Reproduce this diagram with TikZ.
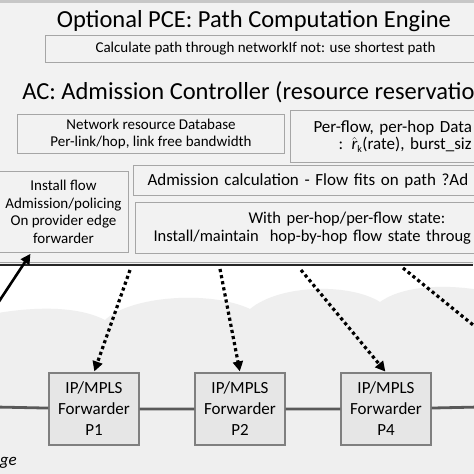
\documentclass[tikz,border=0pt]{standalone}
\usepackage{fontspec}
\setmainfont{Carlito}
\usetikzlibrary{positioning}
\usetikzlibrary{arrows.meta}
\definecolor{bggray}{HTML}{F2F2F2}
\definecolor{cloudgray}{HTML}{EFEFEF}
\definecolor{boxline}{HTML}{A6A6A6}
\definecolor{fwdfill}{HTML}{E6E6E6}
\definecolor{fwdline}{HTML}{7F7F7F}
\definecolor{linkgray}{HTML}{595959}

\begin{document}
\begin{tikzpicture}[x=1pt,y=-1pt,>={Triangle[length=10pt,width=10pt]},shorten >=1pt,
					node distance=146pt,semithick]
					\tikzstyle{infobox}=[draw=boxline,fill=bggray,line width=1pt,inner sep=0pt,font=\fontsize{15}{17.5}\selectfont]
					\tikzstyle{fwd}=[draw=fwdline,fill=fwdfill,line width=1.3pt,minimum width=90pt,minimum height=72pt,
					align=center,inner sep=0pt,font=\fontsize{17}{21}\selectfont]
					\tikzstyle{ctrl}=[->,line width=3.2pt,dash pattern=on 3.2pt off 3pt]
					\tikzstyle{link}=[draw=linkgray,line width=2.8pt]
					
					\useasboundingbox (0,0) rectangle (474,474);
					\clip (0,0) rectangle (474,474);
					
					% background, network cloud
					\fill[bggray] (0,0) rectangle (474,474);
					\fill[black!22] (0,0) rectangle (474,3);
					\fill[white] (0,265) rectangle (474,474);
					\fill[cloudgray] (-2,313) .. controls (40,306) and (80,307) .. (105,320)
					.. controls (130,296) and (210,290) .. (250,309)
					.. controls (280,284) and (350,283) .. (380,302)
					.. controls (405,284) and (450,285) .. (480,290) -- (480,480) -- (-2,480) -- cycle;
					\draw[line width=0.8pt,boxline] (0,262) -- (474,262);
					\draw[line width=1.3pt,black!85] (0,265) -- (474,265);
					
					\node[anchor=base,inner sep=0pt,font=\fontsize{24.5}{28}\selectfont] (pce) at (254,27) {Optional PCE: Path Computation Engine};
					\node[infobox,anchor=north west,minimum width=440pt,minimum height=27pt] (pcecalc) at (45,35)
					{Calculate path through networkIf not: use shortest path};
					\node[anchor=base west,inner sep=0pt,font=\fontsize{24.5}{28}\selectfont] (ac) at (22,99) {AC: Admission Controller (resource reservatio};
					
					\node[infobox,anchor=north west,minimum width=267pt,minimum height=39pt,align=center] (netdb) at (17,114)
					{Network resource Database\\Per-link/hop, link free bandwidth};
					\node[infobox,anchor=north west,minimum height=52pt,text width=200pt,align=left,inner xsep=23pt,
					font=\fontsize{17}{17.5}\selectfont] (flowdb) at (290,110)
					{Per-flow, per-hop Data\\\hspace*{25pt}: $\hat{\textit{r}}_{\textrm{\fontsize{10}{10}\selectfont k}}$(rate), burst\_siz};
					\node[infobox,anchor=north west,minimum width=130pt,minimum height=81pt,align=center] (inst) at (-2,171)
					{Install flow\\Admission/policing\\On provider edge\\forwarder};
					\node[infobox,anchor=north west,minimum height=30pt,text width=400pt,align=left,inner xsep=14pt,
					font=\fontsize{17}{20}\selectfont] (admcalc) at (133,165)
					{Admission calculation - Flow fits on path ?Ad};
					\node[infobox,anchor=north west,minimum height=51pt,text width=420pt,align=left,inner xsep=18pt,
					font=\fontsize{16.5}{18}\selectfont] (state) at (135,202)
					{\hspace*{95pt}With per-hop/per-flow state:\\Install/maintain\ \ hop-by-hop flow state throug};
					
					\node[fwd]         (fwdA) at (94,409)    {IP/MPLS\\Forwarder\\P1};
					\node[fwd]         (fwdB) [right of=fwdA] {IP/MPLS\\Forwarder\\P2};
					\node[fwd]         (fwdD) [right of=fwdB] {IP/MPLS\\Forwarder\\P4};
					\node[anchor=base east,inner sep=0pt,font=\fontsize{17}{20}\selectfont\itshape] (edge) at (17,465) {ge};
					
					\coordinate (linkW) at (-5,407);
					\coordinate (linkE) at (480,407);
					\coordinate (acA) at (130,270);
					\coordinate (acB) at (220,269);
					\coordinate (acC) at (301,270);
					\coordinate (acD) at (403,268);
					\coordinate (fwdE) at (531,372);
					\coordinate (peA) at (-6,309);
					
					\path[link] (linkW) -- (fwdA) (fwdA) -- (fwdB) (fwdB) -- (fwdD) (fwdD) -- (linkE);
					\draw[ctrl] (acA) -- (fwdA.north);
					\draw[ctrl] (acB) -- (fwdB.north);
					\draw[ctrl] (acC) -- (fwdD.north);
					\draw[ctrl] (acD) -- (fwdE);
					\draw[->,line width=2.6pt] (peA) -- ([xshift=33pt]inst.south west);
					\end{tikzpicture}
\end{document}
